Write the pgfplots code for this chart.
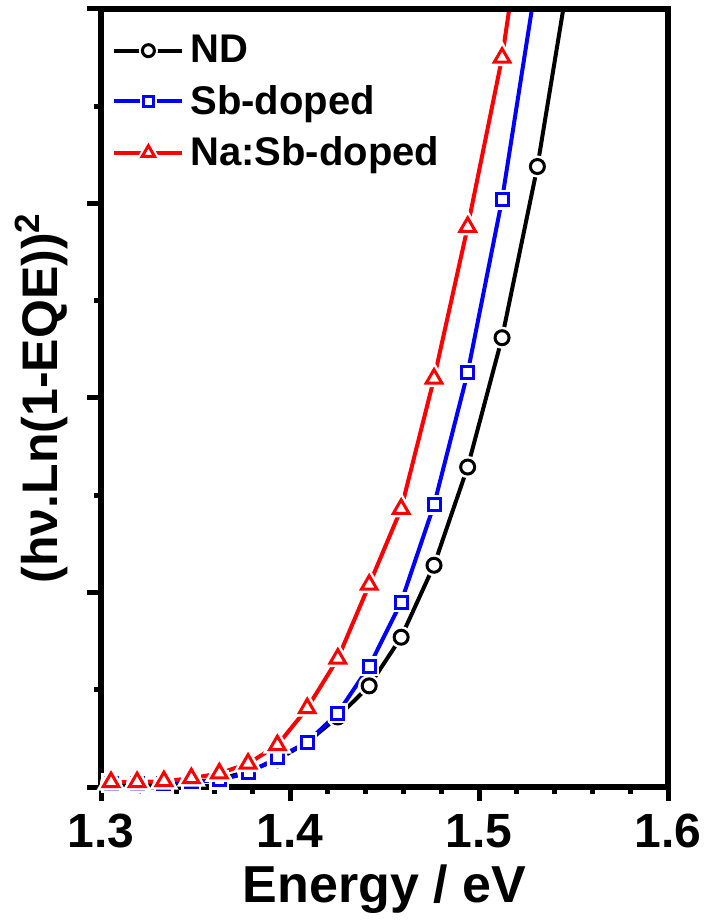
\documentclass[border=0pt]{standalone}
\usepackage{fontspec}
\setmainfont{Liberation Sans}
\usepackage{pgfplots}
\usepackage{pgfplotstable}
\pgfplotsset{compat=1.18}

% E = 1240/lambda, lambda = 950 ... 800 nm
\pgfplotstableread{
E      nd     sb     na
1.3053 0.020  0.020  0.025
1.3191 0.020  0.020  0.025
1.3333 0.020  0.020  0.030
1.3478 0.025  0.026  0.045
1.3626 0.040  0.036  0.070
1.3778 0.080  0.072  0.120
1.3933 0.140  0.150  0.215
1.4091 0.230  0.230  0.405
1.4253 0.360  0.380  0.660
1.4419 0.520  0.620  1.040
1.4588 0.770  0.950  1.430
1.4762 1.140  1.450  2.100
1.4940 1.645  2.130  2.880
1.5122 2.310  3.020  3.750
1.5309 3.190  4.180  4.980
1.5500 4.320  nan    nan
}\data

\pgfplotsset{halo/.style={only marks, white, line width=4pt, forget plot,
                          mark options={fill=white}}}

\begin{document}
\begin{tikzpicture}
\begin{axis}[
  name=ax,
  scale only axis, width=283.5pt, height=389pt,
  xmin=1.3, xmax=1.6, ymin=0, ymax=4,
  xtick={1.3,1.4,1.5,1.6}, minor x tick num=4,
  ytick={0,1,2,3,4}, minor y tick num=1, yticklabels={,,,,},
  tick pos=left, tick align=outside,
  major tick length=7pt, minor tick length=3.5pt,
  every tick/.append style={black, line width=2.5pt},
  every minor tick/.append style={black, line width=2.5pt},
  axis line style={line width=3pt},
  axis on top,
  /pgf/number format/assume math mode=true,
  xticklabel style={font=\fontsize{24}{29}\selectfont\bfseries, yshift=-3pt,
                    /pgf/number format/fixed, /pgf/number format/precision=1},
  xlabel={Energy / eV},
  xlabel style={font=\fontsize{26}{31}\selectfont\bfseries,
                at={(axis description cs:0.5,0)}, anchor=base, yshift=-57.5pt},
  ylabel={(hν.Ln(1-EQE))\textsuperscript{2}},
  ylabel style={font=\fontsize{25}{30}\selectfont\bfseries,
                at={(axis description cs:-0.076,0.5)}, anchor=base},
  legend image code/.code={
    \draw[#1, mark=none] (0pt,0pt) -- (34pt,0pt);
    \draw[#1, draw=white, line width=3.5pt, mark options={draw=white, fill=white}] plot coordinates {(17pt,0pt)};
    \draw[#1] plot coordinates {(17pt,0pt)};
  },
  legend style={draw=none, fill=none, at={(axis description cs:0,1)}, anchor=north west,
                xshift=2.5pt, yshift=-8pt,
                font=\fontsize{20}{24}\selectfont\bfseries,
                row sep=3.75pt, nodes={inner sep=3pt}},
  legend cell align=left,
]
% ND
\addplot[black, line width=2pt, forget plot] table[x=E, y=nd] {\data};
\addplot[halo, mark=*, mark size=3.5pt] table[x=E, y=nd] {\data};
\addplot[black, only marks, mark=*, mark size=3.5pt, mark options={line width=1.5pt, fill=white}, forget plot]
  table[x=E, y=nd] {\data};
% Sb-doped
\addplot[blue, line width=2pt, forget plot] table[x=E, y=sb] {\data};
\addplot[halo, mark=square*, mark size=3pt] table[x=E, y=sb] {\data};
\addplot[blue, only marks, mark=square*, mark size=3pt, mark options={line width=1.5pt, fill=white}, forget plot]
  table[x=E, y=sb] {\data};
% Na:Sb-doped
\addplot[red, line width=2pt, forget plot] table[x=E, y=na] {\data};
\addplot[halo, mark=triangle*, mark size=4.5pt] table[x=E, y=na] {\data};
\addplot[red, only marks, mark=triangle*, mark size=4.5pt, mark options={line width=1.5pt, fill=white}, forget plot]
  table[x=E, y=na] {\data};

\addlegendimage{black, line width=2pt, mark=*, mark size=3pt, mark options={line width=1.5pt, fill=white}}
\addlegendentry{ND}
\addlegendimage{blue, line width=2pt, mark=square*, mark size=2.6pt, mark options={line width=1.5pt, fill=white}}
\addlegendentry{Sb-doped}
\addlegendimage{red, line width=2pt, mark=triangle*, mark size=3.6pt, mark options={line width=1.5pt, fill=white}}
\addlegendentry{Na:Sb-doped}
\end{axis}
\path ([xshift=-50.5pt,yshift=-68.5pt]ax.south west) ([xshift=19.5pt,yshift=4.5pt]ax.north east);
\end{tikzpicture}
\end{document}
